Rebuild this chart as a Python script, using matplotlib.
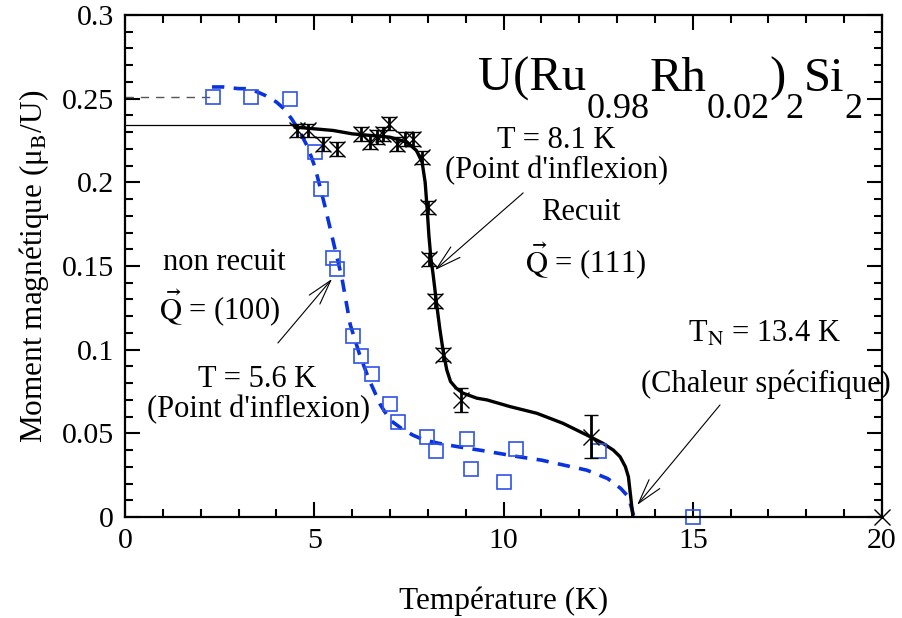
import matplotlib
matplotlib.use('Agg')
import matplotlib.pyplot as plt
from matplotlib.ticker import MultipleLocator, FormatStrFormatter

# ======================
# DATA
# ======================

# Recuit, Q = (111): points with error bars
rec_T = [4.54, 4.84, 5.22, 5.60, 6.23, 6.47, 6.65, 6.82, 6.97, 7.18, 7.40, 7.60,
         7.84, 8.00, 8.02, 8.20, 8.40, 8.87, 12.30]
rec_m = [0.231, 0.231, 0.223, 0.220, 0.229, 0.224, 0.227, 0.229, 0.235, 0.223, 0.226, 0.226,
         0.215, 0.185, 0.154, 0.129, 0.097, 0.070, 0.048]
rec_err = [0.004, 0.004, 0.004, 0.004, 0.004, 0.004, 0.004, 0.004, 0.004, 0.004, 0.004, 0.004,
           0.004, 0.004, 0.004, 0.004, 0.004, 0.007, 0.013]

# Recuit: guide curve
rec_fit_T = [4.5, 5.0, 5.5, 6.0, 6.5, 7.0, 7.45, 7.7, 7.85, 7.93, 7.98, 8.03, 8.08, 8.14,
             8.24, 8.32, 8.4, 8.5, 8.6, 8.75, 8.93, 9.3, 9.56, 10.17, 10.88, 11.57, 12.2,
             12.63, 12.9, 13.08, 13.22, 13.3, 13.36, 13.42]
rec_fit_m = [0.233, 0.232, 0.231, 0.229, 0.228, 0.227, 0.224, 0.219, 0.212, 0.200, 0.185,
             0.168, 0.155, 0.145, 0.126, 0.112, 0.100, 0.088, 0.081, 0.077, 0.074, 0.071, 0.070,
             0.066, 0.062, 0.056, 0.049, 0.044, 0.040, 0.036, 0.030, 0.024, 0.012, 0.0]
rec_low_T = [0.0, 4.5]
rec_low_m = [0.234, 0.234]

# Non recuit, Q = (100): squares
nr_T = [2.32, 3.32, 4.36, 5.02, 5.18, 5.50, 5.60, 6.02, 6.24, 6.53, 7.00, 7.21,
        7.98, 8.22, 9.04, 9.14, 10.01, 10.33, 12.52, 15.00]
nr_m = [0.251, 0.251, 0.250, 0.218, 0.196, 0.155, 0.148, 0.108, 0.096, 0.0855, 0.0675, 0.057,
        0.048, 0.0395, 0.0466, 0.0287, 0.0209, 0.0406, 0.0395, 0.0]

# Non recuit: guide curve
nr_fit_T = [2.3, 2.6, 3.0, 3.25, 3.5, 3.7, 4.0, 4.2, 4.4, 4.6, 4.83, 5.02, 5.28, 5.55,
            5.73, 5.95, 6.2, 6.45, 6.75, 7.0, 7.3, 7.6, 7.9, 8.3, 8.8, 9.5, 10.4, 11.0,
            11.6, 12.2, 12.75, 13.1, 13.3, 13.45]
nr_fit_m = [0.257, 0.257, 0.256, 0.256, 0.254, 0.252, 0.248, 0.244, 0.238, 0.231, 0.221,
            0.209, 0.186, 0.160, 0.143, 0.115, 0.097, 0.082, 0.067, 0.058, 0.053, 0.049,
            0.046, 0.044, 0.042, 0.0395, 0.036, 0.034, 0.031, 0.028, 0.023, 0.017, 0.012, 0.0]
nr_low_T = [0.0, 2.3]
nr_low_m = [0.251, 0.251]

# ======================
# STYLE
# ======================

plt.rcParams['font.family'] = 'Liberation Serif'
plt.rcParams['mathtext.fontset'] = 'stix'
plt.rcParams['font.size'] = 21

blue = '#0a33e0'
sq_blue = '#2f52e8'
ann_fs = 22

fig = plt.figure(figsize=(9.03, 6.18), dpi=100)
ax = fig.add_axes([0.1384, 0.1634, 0.8384, 0.8123])

# Curves
ax.plot(nr_low_T, nr_low_m, color='#555555', lw=1.0, dashes=(6, 5))
ax.plot(nr_fit_T, nr_fit_m, color=blue, lw=2.6, dashes=(3.4, 2.6))
ax.plot(rec_low_T, rec_low_m, color='black', lw=0.9)
ax.plot(rec_fit_T, rec_fit_m, color='black', lw=2.4)

# Points
ax.plot(nr_T, nr_m, 's', ms=10, mfc='none', mec=sq_blue, mew=1.2, clip_on=False)
ax.errorbar(rec_T, rec_m, yerr=rec_err, fmt='x', color='black', ms=11, mew=1.0,
            elinewidth=2.0, capsize=5, capthick=2.0)
ax.plot([20.0], [0.0], 'x', color='black', ms=12, mew=1.0, clip_on=False)

# Axes
ax.set_xlim(0, 20)
ax.set_ylim(0, 0.3)
ax.xaxis.set_major_locator(MultipleLocator(5))
ax.xaxis.set_minor_locator(MultipleLocator(1))
ax.yaxis.set_major_locator(MultipleLocator(0.05))
ax.yaxis.set_minor_locator(MultipleLocator(0.01))
ax.yaxis.set_major_formatter(FormatStrFormatter('%g'))
ax.tick_params(which='both', direction='in', top=True, right=True, labelsize=21.5)
ax.tick_params(which='major', length=11, width=1.5, pad=8)
ax.tick_params(which='minor', length=5.5, width=1.5)
for s in ax.spines.values():
    s.set_linewidth(1.6)

ax.set_xlabel('Température (K)', fontsize=22.5, labelpad=23)
ax.set_ylabel('Moment magnétique (μ$_\\mathrm{B}$/U)', fontsize=22.5, labelpad=8)

# Title built from pieces so the subscripts sit low like in the original
main_fs, sub_fs, drop = 35, 26, 18
pieces = [('0.98', -1), ('Rh', 1), ('0.02', -1), (')', 1), ('2', -1), ('Si', 1), ('2', -1)]
t = ax.text(9.33, 0.2546, 'U(Ru', fontsize=main_fs, ha='left', va='baseline')
for s, d in pieces:
    fs = sub_fs if d < 0 else main_fs
    t = ax.annotate(s, xy=(1, 0), xycoords=t, xytext=(0, d * drop),
                    textcoords='offset points', fontsize=fs, ha='left', va='bottom')

# Texts
ax.text(11.4, 0.2206, 'T = 8.1 K', fontsize=ann_fs, ha='center', va='baseline')
ax.text(11.4, 0.2026, "(Point d'inflexion)", fontsize=ann_fs, ha='center', va='baseline')
ax.text(12.03, 0.1775, 'Recuit', fontsize=ann_fs, ha='center', va='baseline')
ax.text(12.18, 0.1458, '$\\vec{\\mathrm{Q}}$ = (111)', fontsize=ann_fs, ha='center', va='baseline')
ax.text(2.62, 0.1476, 'non recuit', fontsize=ann_fs, ha='center', va='baseline')
ax.text(2.49, 0.1178, '$\\vec{\\mathrm{Q}}$ = (100)', fontsize=ann_fs, ha='center', va='baseline')
ax.text(3.49, 0.0777, 'T = 5.6 K', fontsize=ann_fs, ha='center', va='baseline')
ax.text(3.54, 0.0598, "(Point d'inflexion)", fontsize=ann_fs, ha='center', va='baseline')
ax.text(16.9, 0.1046, 'T$_\\mathrm{N}$ = 13.4 K', fontsize=ann_fs, ha='center', va='baseline')
ax.text(16.93, 0.0747, '(Chaleur spécifique)', fontsize=ann_fs, ha='center', va='baseline')

# Arrows
arrow = dict(arrowstyle='->,head_length=0.9,head_width=0.25', lw=0.8, color='black',
             shrinkA=0, shrinkB=0, mutation_scale=20)
ax.annotate('', xy=(8.19, 0.1476), xytext=(10.52, 0.1937), arrowprops=arrow)
ax.annotate('', xy=(5.47, 0.1423), xytext=(4.04, 0.104), arrowprops=arrow)
ax.annotate('', xy=(13.53, 0.0072), xytext=(15.72, 0.067), arrowprops=arrow)

plt.savefig('out.png', dpi=100)
